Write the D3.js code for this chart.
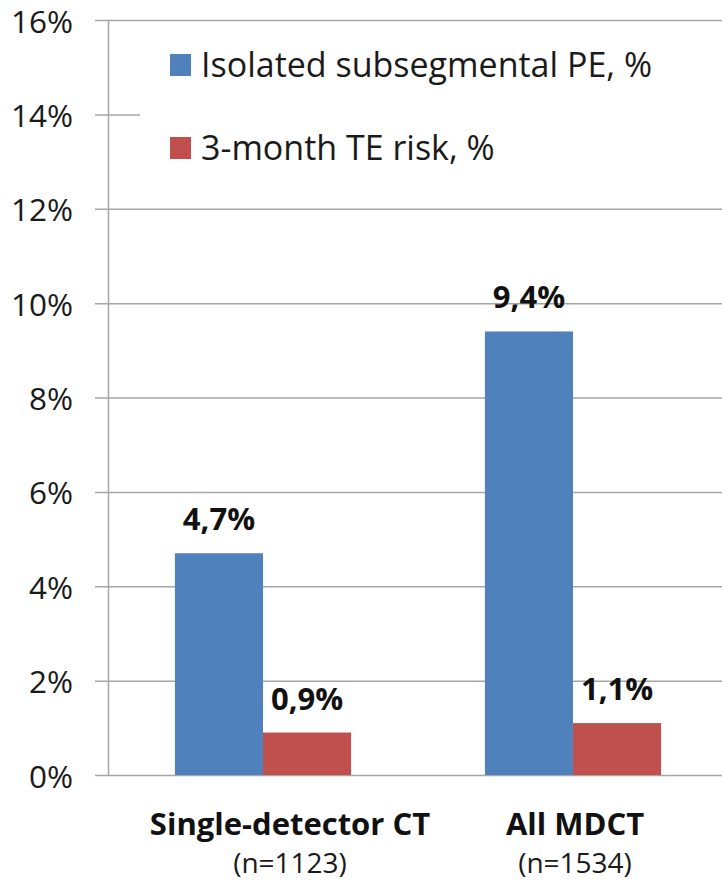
<!DOCTYPE html>
<html lang="en">
<head>
<meta charset="UTF-8">
<title>Subsegmental PE</title>
<script src="https://d3js.org/d3.v7.min.js"></script>
<style>
    body {margin: 0; background: #fff;}
    svg {display: block; font-family: "Open Sans", "Noto Sans", sans-serif;}
</style>
</head>
<body>
<svg id="chart" width="722" height="882"></svg>
<script>
// data
let categories = ["Single-detector CT", "All MDCT"]
let sampleSizes = ["(n=1123)", "(n=1534)"]
let seriesNames = ["Isolated subsegmental PE, %", "3-month TE risk, %"]
let isolatedPE = [4.7, 9.4]
let teRisk = [0.9, 1.1]
let yTicks = [0, 2, 4, 6, 8, 10, 12, 14, 16]
let colors = ["#4F81BD", "#C0504D"]

let svg = d3.select("#chart")

let x0 = d3.scaleBand().domain(categories).range([108, 728])
let x1 = d3.scaleBand().domain(seriesNames).range([0, x0.bandwidth()])
    .paddingInner(0).paddingOuter(0.76)
let y = d3.scaleLinear().domain([0, 16]).range([775, 20])

// gridlines (include the little tick left of the axis)
svg.append("g").selectAll("line")
    .data(yTicks)
    .join("line")
    .attr("x1", 95).attr("x2", 722)
    .attr("y1", d => y(d) + 0.5).attr("y2", d => y(d) + 0.5)
    .attr("stroke", "#a6a6a6").attr("stroke-width", 1.5)

// y axis labels
svg.append("g").selectAll("text")
    .data(yTicks)
    .join("text")
    .attr("x", 73).attr("y", d => y(d) + 12.5)
    .attr("text-anchor", "end")
    .attr("font-size", 31.5)
    .attr("fill", "#1a1a1a")
    .text(d => d + "%")

// legend box hides part of the gridline behind it
svg.append("rect")
    .attr("x", 140).attr("y", 27).attr("width", 600).attr("height", 155)
    .attr("fill", "#fff")

// axis line
svg.append("line")
    .attr("x1", 108.5).attr("x2", 108.5)
    .attr("y1", y(16)).attr("y2", y(0) + 1)
    .attr("stroke", "#a6a6a6").attr("stroke-width", 1.5)

// bars
let rows = categories.map((c, i) => ({cat: c, vals: [isolatedPE[i], teRisk[i]]}))
let groups = svg.append("g").selectAll("g")
    .data(rows)
    .join("g")
    .attr("transform", d => `translate(${x0(d.cat)},0)`)

groups.selectAll("rect")
    .data(d => d.vals.map((v, j) => ({s: seriesNames[j], v: v, j: j})))
    .join("rect")
    .attr("x", d => x1(d.s))
    .attr("width", x1.bandwidth())
    .attr("y", d => y(d.v))
    .attr("height", d => y(0) - y(d.v))
    .attr("fill", d => colors[d.j])

groups.selectAll("text")
    .data(d => d.vals.map((v, j) => ({s: seriesNames[j], v: v, j: j})))
    .join("text")
    .attr("x", d => x1(d.s) + x1.bandwidth() / 2)
    .attr("y", d => y(d.v) - 23)
    .attr("text-anchor", "middle")
    .attr("font-size", 31)
    .attr("font-weight", "bold")
    .attr("fill", "#111")
    .text(d => String(d.v).replace(".", ",") + "%")

// category labels (the first one sits a bit right of its group centre)
let labelShift = [27, 2]
svg.append("g").selectAll("text")
    .data(categories)
    .join("text")
    .attr("x", (d, i) => x0(d) + x0.bandwidth() / 2 + labelShift[i])
    .attr("y", 835)
    .attr("text-anchor", "middle")
    .attr("font-size", 31)
    .attr("font-weight", "bold")
    .attr("fill", "#111")
    .text(d => d)

svg.append("g").selectAll("text")
    .data(sampleSizes)
    .join("text")
    .attr("x", (d, i) => x0(categories[i]) + x0.bandwidth() / 2 + labelShift[i])
    .attr("y", 873)
    .attr("text-anchor", "middle")
    .attr("font-size", 28)
    .attr("fill", "#1a1a1a")
    .text(d => d)

// legend
let legend = svg.append("g").selectAll("g")
    .data(seriesNames)
    .join("g")
    .attr("transform", (d, i) => `translate(170,${54 + i * 83})`)

legend.append("rect")
    .attr("width", 21).attr("height", 22)
    .attr("fill", (d, i) => colors[i])

legend.append("text")
    .attr("x", 31).attr("y", 23)
    .attr("font-size", 34)
    .attr("fill", "#1a1a1a")
    .text(d => d)
</script>
</body>
</html>
